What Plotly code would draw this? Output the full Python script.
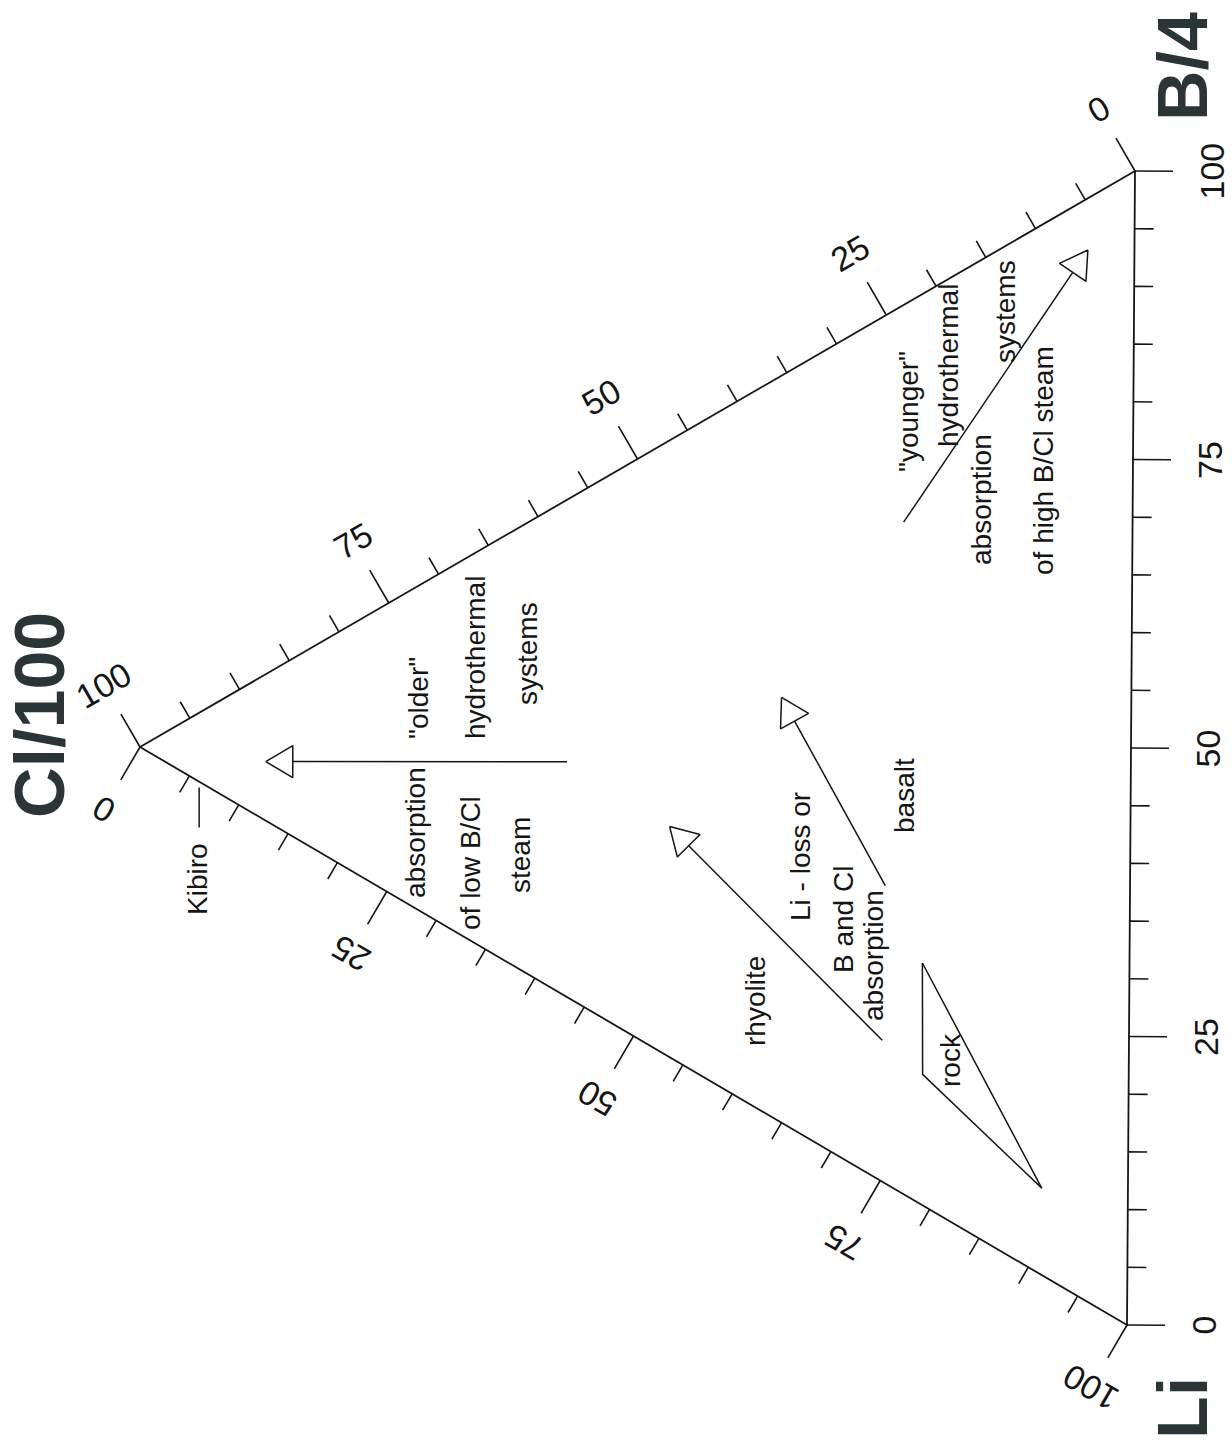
import math
import plotly.graph_objects as go

# ---- ternary data (percent of Cl/100, B/4, Li) ----
tick_values = list(range(0, 101, 5))
label_values = [0, 25, 50, 75, 100]

# trend arrows: "older" systems, "younger" systems, rhyolite, basalt
arrow_start_cl = [56.9, 23.1, 24.9, 24.7]
arrow_start_b = [20.3, 58.0, 12.2, 25.7]
arrow_start_li = [22.8, 18.9, 62.9, 49.6]
arrow_end_cl = [87.3, 4.7, 46.5, 35.3]
arrow_end_b = [5.1, 90.8, 19.9, 36.7]
arrow_end_li = [7.6, 4.5, 33.6, 28.0]

# field of rock compositions
rock_cl = [20.9, 20.8, 8.7]
rock_b = [20.9, 11.3, 7.5]
rock_li = [58.2, 67.9, 83.8]

# Kibiro sample
kibiro_cl, kibiro_b, kibiro_li = 93.5, 0.0, 6.5

# ---- page geometry ----
W, H = 1232, 1449
V_CL = (140.0, 747.0)
V_B = (1135.0, 171.0)
V_LI = (1127.0, 1325.0)

FONT = "Liberation Sans, Arial, Helvetica, sans-serif"
INK = "#151515"


def tern(cl, b, li):
    s = cl + b + li
    x = (cl * V_CL[0] + b * V_B[0] + li * V_LI[0]) / s
    y = (cl * V_CL[1] + b * V_B[1] + li * V_LI[1]) / s
    return x, y


def outward(p, q, opp):
    dx, dy = q[0] - p[0], q[1] - p[1]
    n = math.hypot(dx, dy)
    nx, ny = -dy / n, dx / n
    if nx * (opp[0] - p[0]) + ny * (opp[1] - p[1]) > 0:
        nx, ny = -nx, -ny
    return nx, ny


fig = go.Figure()

# triangle outline
tx = [V_CL[0], V_B[0], V_LI[0], V_CL[0]]
ty = [V_CL[1], V_B[1], V_LI[1], V_CL[1]]
fig.add_trace(go.Scatter(x=tx, y=ty, mode="lines",
                         line=dict(color=INK, width=1.8), hoverinfo="skip"))

# axis definitions: point on edge for value v, normal, label offset, text angle
axes = [
    # Cl axis on the Cl-B edge
    (lambda v: tern(v, 100 - v, 0), outward(V_CL, V_B, V_LI), 72, -30),
    # B axis on the Li-B edge
    (lambda v: tern(0, v, 100 - v), outward(V_LI, V_B, V_CL), 77, -90),
    # Li axis on the Cl-Li edge
    (lambda v: tern(100 - v, 0, v), outward(V_CL, V_LI, V_B), 72, -150),
]

annotations = []
kx, ky = [], []
for pos, (nx, ny), off, ang in axes:
    for v in tick_values:
        px, py = pos(v)
        ln = 38 if v % 25 == 0 else 19
        kx += [px, px + nx * ln, None]
        ky += [py, py + ny * ln, None]
    for v in label_values:
        px, py = pos(v)
        annotations.append(dict(x=px + nx * off, y=py + ny * off, text=str(v),
                                showarrow=False, textangle=ang,
                                xanchor="center", yanchor="middle",
                                font=dict(family=FONT, size=34, color=INK)))

fig.add_trace(go.Scatter(x=kx, y=ky, mode="lines",
                         line=dict(color=INK, width=1.6), hoverinfo="skip"))

# arrows with open triangular heads
HEAD_LEN, HEAD_HALF = 27, 16
for i in range(len(arrow_start_cl)):
    sx, sy = tern(arrow_start_cl[i], arrow_start_b[i], arrow_start_li[i])
    ex, ey = tern(arrow_end_cl[i], arrow_end_b[i], arrow_end_li[i])
    d = math.hypot(ex - sx, ey - sy)
    ux, uy = (ex - sx) / d, (ey - sy) / d
    mx, my = ex - HEAD_LEN * ux, ey - HEAD_LEN * uy
    px_, py_ = -uy, ux
    fig.add_trace(go.Scatter(x=[sx, mx], y=[sy, my], mode="lines",
                             line=dict(color=INK, width=1.5), hoverinfo="skip"))
    fig.add_trace(go.Scatter(
        x=[ex, mx + HEAD_HALF * px_, mx - HEAD_HALF * px_, ex],
        y=[ey, my + HEAD_HALF * py_, my - HEAD_HALF * py_, ey],
        mode="lines", fill="toself", fillcolor="white",
        line=dict(color=INK, width=1.5), hoverinfo="skip"))

# rock field
rx, ry = [], []
for c, b, l in zip(rock_cl + rock_cl[:1], rock_b + rock_b[:1], rock_li + rock_li[:1]):
    x, y = tern(c, b, l)
    rx.append(x)
    ry.append(y)
fig.add_trace(go.Scatter(x=rx, y=ry, mode="lines",
                         line=dict(color=INK, width=1.5), hoverinfo="skip"))

# Kibiro leader
kpx, kpy = tern(kibiro_cl, kibiro_b, kibiro_li)
fig.add_trace(go.Scatter(x=[kpx - 5, kpx - 5], y=[kpy + 3, kpy + 43], mode="lines",
                         line=dict(color=INK, width=1.5), hoverinfo="skip"))

# descriptive labels (rotated, reading upward)
notes = [
    ("Kibiro", 197, 879),
    ('"older"', 418, 698),
    ("hydrothermal", 475, 658),
    ("systems", 527, 654),
    ("absorption", 415, 833),
    ("of low B/Cl", 470, 863),
    ("steam", 520, 855),
    ('"younger"', 908, 412),
    ("hydrothermal", 948, 366),
    ("systems", 1005, 312),
    ("absorption", 981, 500),
    ("of high B/Cl steam", 1043, 461),
    ("Li - loss or", 800, 857),
    ("B and Cl", 843, 920),
    ("absorption", 873, 956),
    ("basalt", 904, 796),
    ("rhyolite", 755, 1001),
    ("rock", 950, 1060),
]
for text, x, y in notes:
    annotations.append(dict(x=x, y=y, text=text, showarrow=False, textangle=-90,
                            xanchor="center", yanchor="middle",
                            font=dict(family=FONT, size=28, color=INK)))

# component titles
TITLE_INK = "#2b3535"
for text, x, y in [("Cl/100", 40, 715), ("B/4", 1183, 67), ("Li", 1183, 1408)]:
    annotations.append(dict(x=x, y=y, text="<b>%s</b>" % text, showarrow=False,
                            textangle=-90, xanchor="center", yanchor="middle",
                            font=dict(family=FONT, size=70, color=TITLE_INK)))

fig.update_layout(
    width=W, height=H,
    margin=dict(l=0, r=0, t=0, b=0),
    paper_bgcolor="white", plot_bgcolor="white",
    showlegend=False,
    xaxis=dict(range=[0, W], visible=False, fixedrange=True),
    yaxis=dict(range=[H, 0], visible=False, fixedrange=True),
    annotations=annotations,
)

fig.write_html("out.html")
